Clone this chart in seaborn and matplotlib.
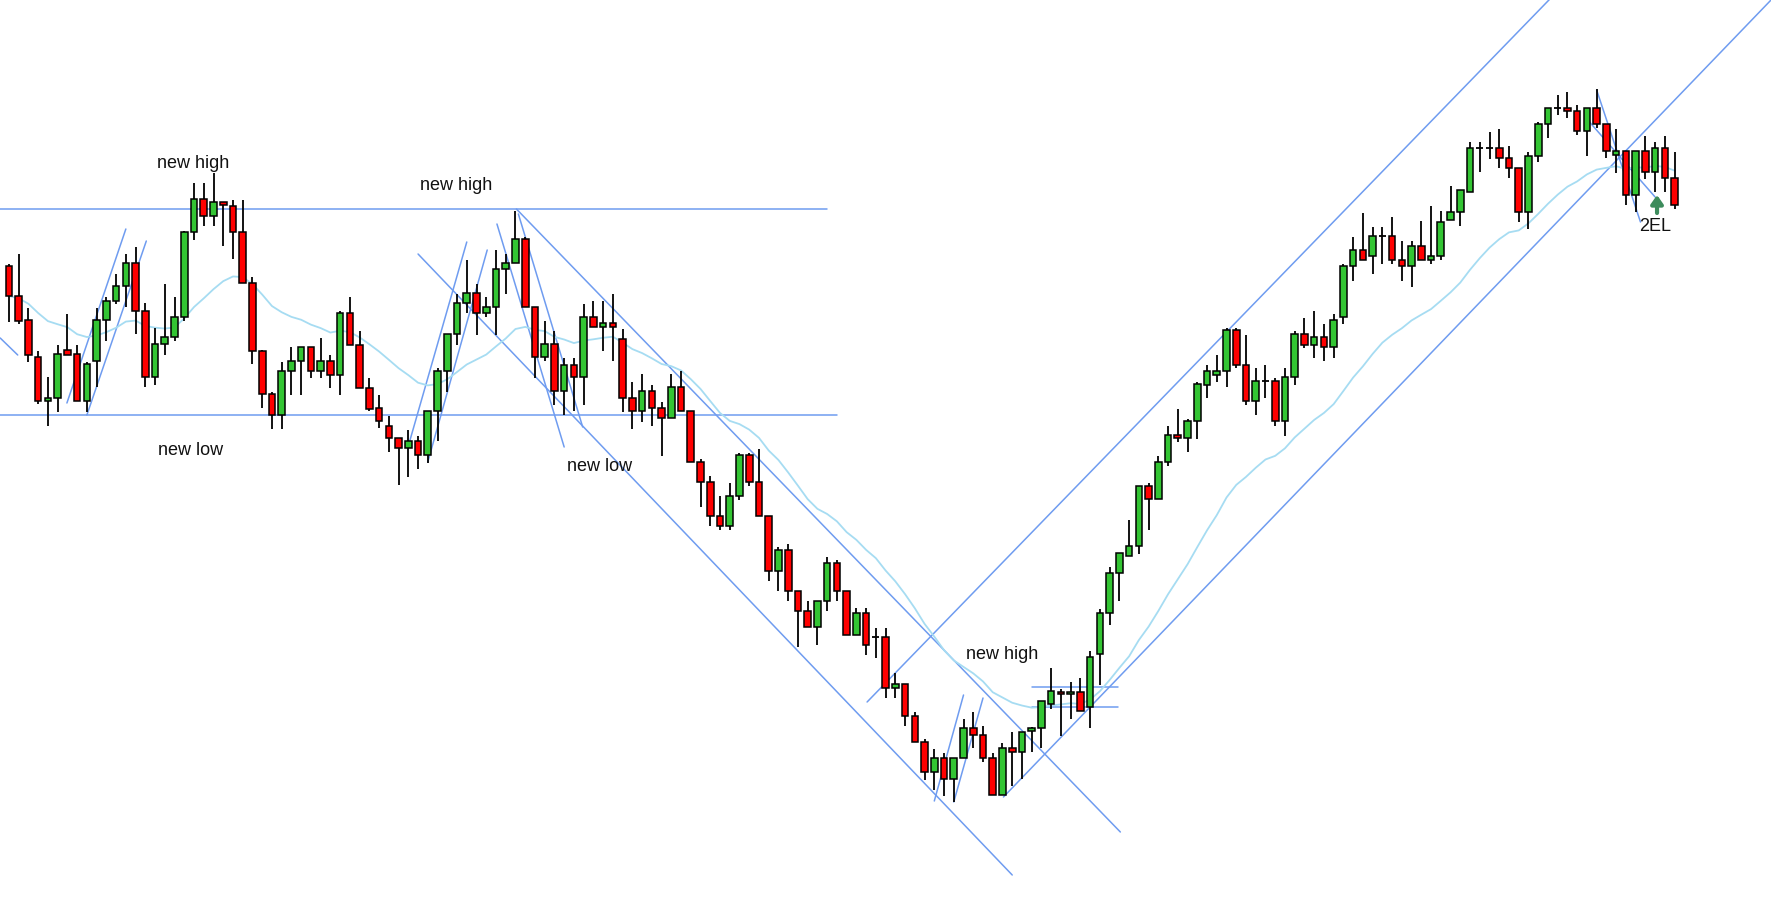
import numpy as np
import pandas as pd
import seaborn as sns
import matplotlib.pyplot as plt

# candle data, in screen units (higher number = lower price, y axis inverted)
opens = [267, 297, 321, 358, 402, 399, 351, 355, 402, 362, 321, 302, 287, 264, 312, 378, 345, 338, 318, 233,
         200, 217, 203, 207, 233, 284, 352, 395, 416, 372, 362, 348, 372, 362, 376, 314, 346, 389, 409, 427,
         439, 449, 442, 456, 412, 372, 335, 304, 294, 314, 308, 270, 264, 240, 308, 358, 345, 392, 366, 378,
         318, 328, 324, 340, 399, 412, 392, 409, 419, 388, 412, 463, 483, 517, 527, 497, 456, 483, 517, 572,
         551, 592, 612, 628, 602, 564, 592, 636, 614, 638, 638, 689, 685, 717, 743, 773, 759, 780, 759, 729,
         736, 759, 796, 749, 753, 732, 729, 705, 693, 695, 693, 708, 655, 614, 574, 557, 547, 487, 500, 463,
         436, 439, 422, 386, 376, 372, 331, 366, 402, 382, 382, 422, 378, 335, 346, 338, 348, 318, 267, 251,
         257, 237, 237, 261, 267, 247, 261, 257, 221, 213, 193, 149, 149, 149, 159, 169, 213, 157, 125, 109,
         109, 112, 132, 109, 125, 156, 152, 196, 152, 173, 149, 179]
closes = [297, 322, 356, 402, 399, 355, 356, 402, 365, 321, 302, 287, 264, 312, 378, 345, 338, 318, 233, 200,
          217, 203, 206, 233, 284, 352, 395, 416, 372, 362, 348, 372, 362, 376, 314, 346, 389, 410, 422, 439,
          449, 442, 456, 412, 372, 335, 304, 294, 314, 308, 270, 264, 240, 308, 358, 345, 392, 366, 378, 318,
          328, 324, 328, 399, 412, 392, 409, 419, 388, 412, 463, 483, 517, 527, 497, 456, 483, 517, 572, 551,
          592, 612, 628, 602, 564, 592, 636, 614, 646, 638, 689, 685, 717, 743, 773, 759, 780, 759, 729, 736,
          759, 796, 749, 753, 733, 729, 702, 692, 695, 693, 712, 658, 614, 574, 554, 547, 487, 500, 463, 436,
          439, 422, 385, 372, 372, 331, 366, 402, 382, 382, 422, 378, 335, 346, 338, 348, 321, 267, 251, 261,
          237, 237, 261, 267, 247, 261, 257, 223, 213, 191, 149, 149, 149, 159, 169, 213, 157, 125, 109, 109,
          112, 132, 109, 125, 152, 152, 196, 152, 173, 149, 179, 206]
highs = [265, 255, 309, 352, 378, 346, 315, 346, 363, 309, 298, 275, 255, 248, 304, 329, 285, 298, 232, 184,
         184, 174, 203, 201, 201, 278, 351, 393, 363, 348, 348, 348, 339, 356, 312, 298, 332, 379, 396, 417,
         439, 431, 437, 412, 369, 335, 295, 261, 285, 298, 251, 255, 212, 238, 308, 322, 332, 359, 359, 305,
         302, 302, 295, 330, 383, 375, 386, 403, 375, 372, 412, 460, 477, 497, 484, 454, 454, 450, 517, 548,
         545, 592, 602, 602, 558, 561, 592, 609, 609, 629, 629, 674, 685, 713, 740, 750, 754, 759, 720, 713,
         727, 754, 744, 733, 733, 728, 702, 669, 690, 683, 679, 652, 610, 568, 554, 521, 487, 484, 457, 427,
         410, 420, 383, 366, 356, 329, 329, 336, 369, 366, 379, 369, 332, 319, 312, 325, 315, 265, 238, 214,
         228, 228, 218, 242, 242, 222, 207, 212, 187, 191, 143, 143, 133, 130, 147, 169, 153, 123, 109, 96,
         93, 106, 109, 90, 125, 130, 152, 152, 137, 143, 137, 153]
lows = [323, 325, 363, 405, 427, 413, 356, 402, 413, 388, 342, 305, 308, 335, 388, 386, 356, 342, 322, 241,
        227, 227, 247, 260, 284, 365, 409, 430, 430, 396, 396, 379, 379, 389, 396, 346, 389, 412, 429, 453,
        486, 478, 470, 464, 442, 393, 346, 314, 336, 318, 336, 295, 264, 308, 379, 362, 406, 416, 412, 406,
        328, 352, 362, 413, 430, 423, 427, 457, 419, 412, 463, 508, 527, 531, 531, 501, 487, 517, 582, 592,
        602, 648, 628, 646, 612, 602, 636, 636, 656, 659, 699, 699, 727, 743, 781, 791, 797, 803, 759, 749,
        763, 796, 796, 787, 780, 753, 749, 710, 737, 720, 712, 729, 686, 626, 602, 557, 555, 531, 500, 467,
        443, 453, 440, 399, 383, 388, 369, 406, 416, 399, 427, 437, 386, 349, 359, 362, 359, 325, 282, 261,
        275, 265, 265, 282, 288, 261, 265, 261, 221, 227, 193, 173, 160, 169, 179, 223, 230, 163, 139, 116,
        119, 136, 157, 129, 159, 174, 206, 213, 180, 193, 193, 210]

# trend lines: (bar index start, level start, bar index end, level end)
trend_lines = [
    (-0.9, 210, 84.0, 210), (-0.9, 416, 85.0, 416),
    (88.1, 703, 158.2, 0), (102.1, 798, 181.0, 0),
    (52.1, 210, 114.1, 833), (42.0, 255, 103.0, 876),
    (-0.9, 339, 0.9, 356),
    (5.95, 404, 12.0, 230), (8.0, 416, 14.1, 242),
    (41.0, 447, 47.0, 243), (43.0, 463, 49.1, 251),
    (50.1, 225, 57.0, 448), (52.3, 215, 58.9, 428),
    (95.0, 802, 98.0, 696), (97.0, 803, 100.0, 699),
    (105.0, 688, 113.9, 688), (105.0, 708, 113.9, 708),
    (163.0, 91, 167.5, 223), (162.0, 120, 169.0, 198),
]

labels = ["new high", "new high", "new low", "new low", "new high", "2EL"]
label_pos = [(18.9, 163), (45.9, 185), (18.6, 451), (60.6, 467), (102.0, 655), (169.0, 227)]

sns.set_style("white")
plt.rcParams["font.family"] = ["Liberation Sans", "DejaVu Sans"]
fig = plt.figure(figsize=(17.71, 9.03), dpi=100)
ax = fig.add_axes([0, 0, 1, 1])

df = pd.DataFrame({"o": opens, "h": highs, "l": lows, "c": closes})
df["i"] = np.arange(len(df))
df["ma"] = df["c"].ewm(span=20, adjust=False).mean()

for x0, y0, x1, y1 in trend_lines:
    ax.plot([x0, x1], [y0, y1], color="#6f9cf0", lw=1.1, zorder=1)

sns.lineplot(data=df, x="i", y="ma", ax=ax, color="#a6dcf2", lw=1.3, zorder=2)

ax.vlines(df["i"], df["h"], df["l"], color="black", lw=1.3, zorder=3)
for _, r in df.iterrows():
    top, bot = min(r.o, r.c), max(r.o, r.c)
    if bot - top < 1:
        ax.hlines(r.o, r.i - 0.35, r.i + 0.35, color="black", lw=1.3, zorder=4)
        continue
    col = "#33c533" if r.c < r.o else "#ff0000"
    ax.bar(r.i, bot - top, bottom=top, width=0.68, color=col, edgecolor="black", lw=1.1, zorder=4)

for t, (x, y) in zip(labels, label_pos):
    ax.text(x, y, t, fontsize=13, ha="center", va="center", color="#111111")

# 2EL signal arrow
ax.annotate("", xy=(169.2, 196), xytext=(169.2, 214),
            arrowprops=dict(arrowstyle="-|>,head_width=0.35,head_length=0.5", color="#3d8c5c",
                            lw=3, shrinkA=0, shrinkB=0))

ax.set_xlim(-0.92, 180.9)
ax.set_ylim(903, 0)
ax.axis("off")
fig.savefig("out.png", dpi=100)
